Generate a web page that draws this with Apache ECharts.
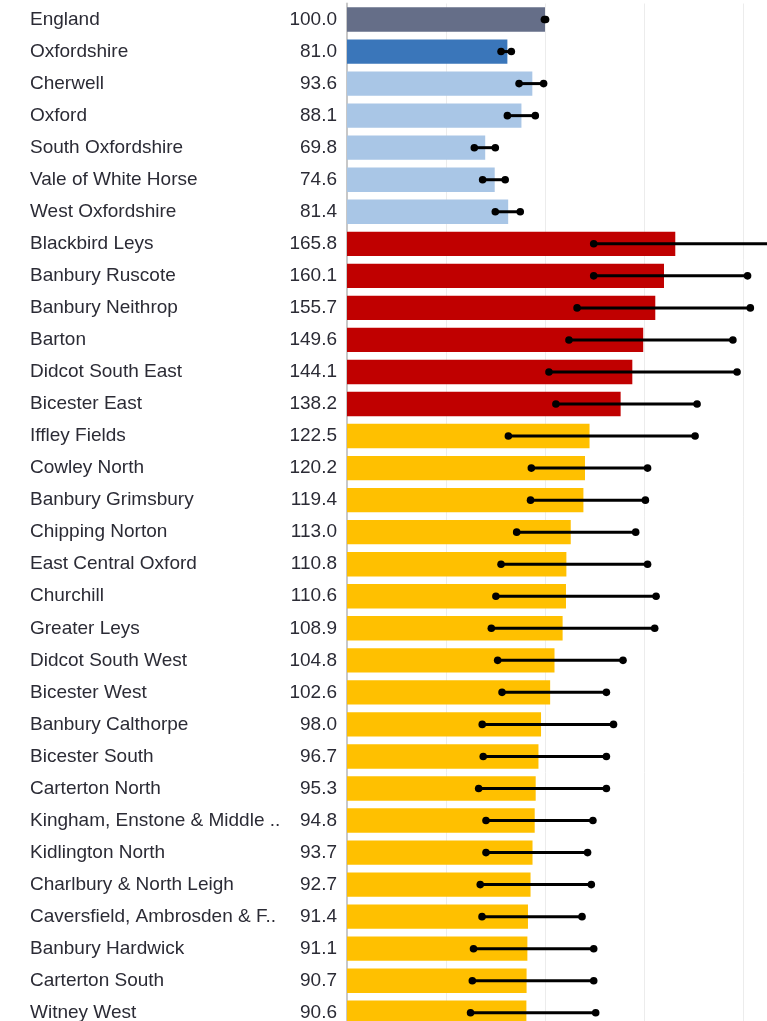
<!DOCTYPE html>
<html>
<head>
<meta charset="utf-8">
<style>
  html, body { margin: 0; padding: 0; background: #ffffff; overflow: hidden; }
  /* drawing surface is larger than the window: the plot runs off the right and bottom edges */
  #chart { width: 860px; height: 1040px; }
</style>
<script src="https://cdn.jsdelivr.net/npm/echarts@6/dist/echarts.min.js"></script>
</head>
<body>
<div id="chart"></div>
<script>
// Area names, top to bottom
const areas = [
  'England', 'Oxfordshire', 'Cherwell', 'Oxford', 'South Oxfordshire',
  'Vale of White Horse', 'West Oxfordshire', 'Blackbird Leys', 'Banbury Ruscote',
  'Banbury Neithrop', 'Barton', 'Didcot South East', 'Bicester East', 'Iffley Fields',
  'Cowley North', 'Banbury Grimsbury', 'Chipping Norton', 'East Central Oxford',
  'Churchill', 'Greater Leys', 'Didcot South West', 'Bicester West',
  'Banbury Calthorpe', 'Bicester South', 'Carterton North',
  'Kingham, Enstone & Middle ..', 'Kidlington North', 'Charlbury & North Leigh',
  'Caversfield, Ambrosden & F..', 'Banbury Hardwick', 'Carterton South', 'Witney West'
];

// Standardised ratio (England = 100)
const ratios = [
  100.0, 81.0, 93.6, 88.1, 69.8, 74.6, 81.4, 165.8, 160.1, 155.7, 149.6, 144.1,
  138.2, 122.5, 120.2, 119.4, 113.0, 110.8, 110.6, 108.9, 104.8, 102.6, 98.0,
  96.7, 95.3, 94.8, 93.7, 92.7, 91.4, 91.1, 90.7, 90.6
];

// 95% confidence interval, lower and upper limits
const lowerCI = [
  99.7, 77.8, 86.9, 81.0, 64.3, 68.5, 74.9, 124.6, 124.6, 116.2, 112.1, 102.0,
  105.5, 81.5, 93.1, 92.7, 85.7, 77.8, 75.2, 72.9, 76.1, 78.3, 68.3,
  68.8, 66.5, 70.2, 70.2, 67.3, 68.2, 63.9, 63.3, 62.4
];
const upperCI = [
  100.3, 83.0, 99.3, 95.1, 74.9, 79.9, 87.5, 218.0, 202.3, 203.7, 194.9, 197.0,
  176.8, 175.8, 151.8, 150.7, 145.8, 151.8, 156.1, 155.4, 139.4, 131.0, 134.6,
  131.0, 131.0, 124.2, 121.5, 123.4, 118.7, 124.6, 124.6, 125.6
];

// Comparison group of each area
const groups = [
  'national', 'county', 'district', 'district', 'district', 'district', 'district',
  'high', 'high', 'high', 'high', 'high', 'high',
  'above', 'above', 'above', 'above', 'above', 'above', 'above', 'above', 'above',
  'above', 'above', 'above', 'above', 'above', 'above', 'above', 'above', 'above', 'above'
];

const groupColors = {
  national: '#656e88',
  county: '#3a76ba',
  district: '#a9c6e6',
  high: '#c00000',
  above: '#ffc000'
};

const chart = echarts.init(document.getElementById('chart'), null, { renderer: 'canvas' });

const labelFont = '"Liberation Sans", Arial, sans-serif';

chart.setOption({
  animation: false,
  backgroundColor: '#ffffff',
  grid: {
    left: 347, top: 3.5, width: 495, height: 1025.3,
    containLabel: false, outerBoundsMode: 'none'
  },
  xAxis: {
    type: 'value',
    min: 0,
    max: 250,
    interval: 50,
    axisLine: { show: false },
    axisTick: { show: false },
    axisLabel: { show: false },
    splitLine: { show: true, lineStyle: { color: '#ececec', width: 1 } }
  },
  yAxis: {
    type: 'category',
    inverse: true,
    data: areas,
    axisLine: { show: true, lineStyle: { color: '#c8c8c8', width: 2 } },
    axisTick: { show: false },
    axisLabel: {
      margin: 10,
      formatter: function (name, idx) {
        return '{n|' + name + '}{v|' + ratios[idx].toFixed(1) + '}';
      },
      rich: {
        n: { width: 257, align: 'left', fontSize: 19, fontFamily: labelFont, color: '#2b2b35' },
        v: { width: 50, align: 'right', fontSize: 19, fontFamily: labelFont, color: '#2b2b35' }
      }
    }
  },
  series: [
    {
      type: 'bar',
      barCategoryGap: '24%',
      data: ratios.map(function (v, i) {
        return { value: v, itemStyle: { color: groupColors[groups[i]] } };
      }),
      z: 2
    },
    {
      type: 'custom',
      z: 5,
      clip: false,
      data: areas.map(function (a, i) { return [lowerCI[i], upperCI[i], i]; }),
      encode: { x: [0, 1], y: 2 },
      renderItem: function (params, api) {
        const y = api.value(2);
        const p1 = api.coord([api.value(0), y]);
        const p2 = api.coord([api.value(1), y]);
        const r = 3.8;
        return {
          type: 'group',
          children: [
            { type: 'line', shape: { x1: p1[0], y1: p1[1], x2: p2[0], y2: p2[1] },
              style: { stroke: '#000000', lineWidth: 3 } },
            { type: 'circle', shape: { cx: p1[0], cy: p1[1], r: r }, style: { fill: '#000000' } },
            { type: 'circle', shape: { cx: p2[0], cy: p2[1], r: r }, style: { fill: '#000000' } }
          ]
        };
      }
    }
  ]
});
</script>
</body>
</html>
